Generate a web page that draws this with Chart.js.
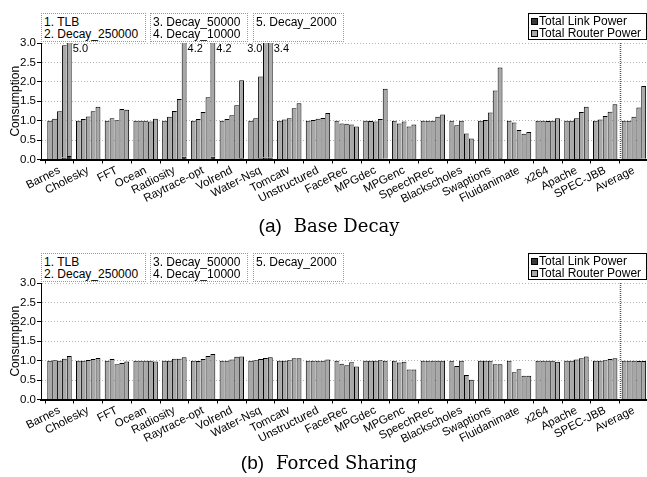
<!DOCTYPE html>
<html><head><meta charset="utf-8">
<script src="https://cdn.jsdelivr.net/npm/chart.js@4/dist/chart.umd.min.js"></script>
<style>
html,body{margin:0;padding:0;background:#fff;overflow:hidden;width:647px;height:477px}
.panel{position:absolute;left:0;width:647px;height:240px;overflow:hidden}
canvas{display:block;position:absolute;left:0;top:0}
.box{position:absolute;top:13px;height:29px;border:1px dotted #999;box-sizing:border-box;font:12px "Liberation Sans",Arial,sans-serif;line-height:12px;padding:2px 0 0 2px;color:#000;white-space:nowrap;background:#fff}
.legend{position:absolute;top:13px;left:528px;width:119px;height:27px;border:1px solid #000;box-sizing:border-box;font:12px "Liberation Sans",Arial,sans-serif;line-height:12px;padding:1px 0 0 2px;color:#000;white-space:nowrap;background:#fff}
.mk{display:inline-block;width:5px;height:5px;border:1px solid #000;margin-right:1px;vertical-align:0px}
.cap{position:absolute;left:0;width:658px;text-align:center;line-height:20px;color:#000;white-space:nowrap}
.cap .s{font:19px "Liberation Sans",Arial,sans-serif;margin-right:12px}
.cap .t{font:18px "DejaVu Serif",serif}
</style></head>
<body>
<div class="panel" id="pa" style="top:0px"><canvas id="ca" width="647" height="240"></canvas></div>
<div class="panel" id="pb" style="top:240px"><canvas id="cb" width="647" height="240"></canvas></div>
<script>
const categories = ['Barnes','Cholesky','FFT','Ocean','Radiosity','Raytrace-opt','Volrend','Water-Nsq','Tomcatv','Unstructured','FaceRec','MPGdec','MPGenc','SpeechRec','Blackscholes','Swaptions','Fluidanimate','x264','Apache','SPEC-JBB','Average'];
const configs = ['1. TLB','2. Decay_250000','3. Decay_50000','4. Decay_10000','5. Decay_2000'];
const seriesNames = ['Total Link Power','Total Router Power'];
const captions = [['(a)','Base Decay'],['(b)','Forced Sharing']];
const yTickValues = [0,0.5,1,1.5,2,2.5,3];

// total consumption (link + router) per category, one value per config
const baseDecayTotal = [
 [1.00,1.05,1.24,2.94,5.0],
 [1.00,1.04,1.11,1.24,1.36],
 [1.00,1.06,1.01,1.30,1.28],
 [1.00,1.00,1.00,0.98,1.05],
 [1.00,1.10,1.25,1.56,4.2],
 [1.00,1.04,1.22,1.60,4.2],
 [1.00,1.04,1.14,1.40,2.04],
 [1.00,1.06,2.14,3.02,3.4],
 [1.00,1.03,1.06,1.32,1.45],
 [1.00,1.02,1.05,1.07,1.20],
 [1.00,0.93,0.92,0.90,0.85],
 [1.00,0.99,0.98,1.04,1.82],
 [1.00,0.93,0.98,0.85,0.90],
 [1.00,1.00,1.00,1.10,1.16],
 [1.00,0.88,1.00,0.67,0.54],
 [1.00,1.02,1.21,1.78,2.37],
 [1.00,0.95,0.76,0.66,0.71],
 [1.00,1.00,0.99,1.00,1.06],
 [1.00,1.00,1.06,1.22,1.36],
 [1.00,1.03,1.12,1.23,1.42],
 [1.00,1.00,1.10,1.34,1.89]
];
const baseDecayLink = [
 [0.01,0.01,0.01,0.05,0.09],
 [0.01,0.01,0.01,0.01,0.01],
 [0.01,0.01,0.01,0.01,0.01],
 [0.01,0.01,0.01,0.01,0.01],
 [0.01,0.01,0.01,0.01,0.07],
 [0.01,0.01,0.01,0.01,0.07],
 [0.01,0.01,0.01,0.01,0.03],
 [0.01,0.01,0.03,0.05,0.05],
 [0.01,0.01,0.01,0.01,0.01],
 [0.01,0.01,0.01,0.01,0.01],
 [0.01,0.01,0.01,0.01,0.01],
 [0.01,0.01,0.01,0.01,0.02],
 [0.01,0.01,0.01,0.01,0.01],
 [0.01,0.01,0.01,0.01,0.01],
 [0.01,0.01,0.01,0.01,0.01],
 [0.01,0.01,0.01,0.01,0.03],
 [0.01,0.01,0.01,0.01,0.01],
 [0.01,0.01,0.01,0.01,0.01],
 [0.01,0.01,0.01,0.01,0.01],
 [0.01,0.01,0.01,0.01,0.01],
 [0.01,0.01,0.01,0.01,0.02]
];
const forcedSharingTotal = [
 [1.00,1.01,1.00,1.05,1.12],
 [1.00,1.00,1.02,1.045,1.07],
 [1.00,1.04,0.91,0.94,0.98],
 [1.00,1.00,1.00,1.00,0.98],
 [1.00,1.00,1.05,1.05,1.09],
 [1.00,0.99,1.045,1.12,1.17],
 [1.00,1.00,1.03,1.10,1.11],
 [1.00,1.01,1.045,1.07,1.09],
 [1.00,1.00,1.01,1.06,1.06],
 [1.00,1.00,1.00,1.00,1.03],
 [1.00,0.92,0.88,0.96,0.85],
 [1.00,1.00,1.00,1.01,1.00],
 [1.00,0.95,0.97,0.77,0.77],
 [1.00,1.00,1.00,1.00,1.00],
 [1.00,0.865,1.00,0.63,0.51],
 [1.00,1.00,1.00,0.91,0.91],
 [1.00,0.70,0.78,0.61,0.61],
 [1.00,1.00,1.00,1.00,0.97],
 [1.00,1.00,1.03,1.06,1.11],
 [1.00,1.00,1.01,1.045,1.06],
 [1.00,1.00,1.00,0.99,0.99]
];
const forcedSharingLink = categories.map(() => [0.01,0.01,0.01,0.01,0.01]);

const LINK_COLOR = '#3a3a3a', ROUTER_COLOR = '#a8a8a8';
const SANS = '"Liberation Sans", Arial, sans-serif';

function addOverlays(panel, capIdx, capTop) {
  const boxes = [[41,105,[configs[0],configs[1]]],[150,98,[configs[2],configs[3]]],[253,91,[configs[4]]]];
  boxes.forEach(([l,w,lines]) => {
    const d = document.createElement('div');
    d.className = 'box'; d.style.left = l+'px'; d.style.width = w+'px';
    d.innerHTML = lines.join('<br>');
    panel.appendChild(d);
  });
  const lg = document.createElement('div');
  lg.className = 'legend';
  lg.innerHTML = '<span class="mk" style="background:'+LINK_COLOR+'"></span>'+seriesNames[0]+'<br>'+
                 '<span class="mk" style="background:'+ROUTER_COLOR+'"></span>'+seriesNames[1];
  panel.appendChild(lg);
  const cap = document.createElement('div');
  cap.className = 'cap'; cap.style.top = capTop + 'px';
  cap.innerHTML = '<span class="s">'+captions[capIdx][0]+'</span><span class="t">'+captions[capIdx][1]+'</span>';
  panel.appendChild(cap);
}

const decorPlugin = {
  id: 'decor',
  afterDatasetsDraw(chart, args, opts) {
    const {ctx, chartArea} = chart;
    const xs = chart.scales.x;
    // dotted separator before "Average"
    const sx = Math.round(xs.getPixelForValue(categories.length - 1.5)) + 0.5;
    ctx.save();
    ctx.strokeStyle = '#555'; ctx.lineWidth = 1.5; ctx.setLineDash([1,1]);
    ctx.beginPath(); ctx.moveTo(sx, chartArea.top); ctx.lineTo(sx, chartArea.bottom); ctx.stroke();
    ctx.restore();
    // overflow labels
    const totals = opts.totals;
    ctx.save();
    ctx.font = '11px ' + SANS; ctx.fillStyle = '#000'; ctx.textBaseline = 'middle';
    totals.forEach((row, i) => {
      row.forEach((v, k) => {
        if (v <= 3) return;
        const el = chart.getDatasetMeta(2*k+1).data[i];
        const left = (k < row.length-1 && row[k+1] > 3);
        if (left) { ctx.textAlign = 'right'; ctx.fillText(v.toFixed(1), el.x - el.width/2 - 0.5, chartArea.top + 6); }
        else { ctx.textAlign = 'left'; ctx.fillText(v.toFixed(1), el.x + el.width/2 + 1, chartArea.top + 6); }
      });
    });
    ctx.restore();
  }
};

function makeChart(canvasId, totals, links) {
  const datasets = [];
  configs.forEach((c, k) => {
    const bw = {left:1, top:1, bottom:0, right: (k === configs.length-1 ? 1 : 0)};
    datasets.push({label: seriesNames[0], stack: 's'+k, clip: 0,
      data: categories.map((n,i) => ({x:i, y:links[i][k]})),
      backgroundColor: LINK_COLOR, borderColor:'#000', borderWidth:bw, borderSkipped:false});
    datasets.push({label: seriesNames[1], stack: 's'+k, clip: 0,
      data: categories.map((n,i) => ({x:i, y:+(totals[i][k]-links[i][k]).toFixed(3)})),
      backgroundColor: ROUTER_COLOR, borderColor:'#000', borderWidth:bw, borderSkipped:false});
  });
  return new Chart(document.getElementById(canvasId), {
    type: 'bar',
    data: {datasets},
    plugins: [decorPlugin],
    options: {
      responsive:false, animation:false, devicePixelRatio:1,
      categoryPercentage:0.85, barPercentage:1.0,
      layout:{padding:{top:43,left:0,right:0,bottom:0}},
      plugins:{legend:{display:false}, tooltip:{enabled:false}, decor:{totals}},
      scales:{
        x:{type:'linear', min:-0.644, max:20.456, stacked:true, offset:false,
           afterBuildTicks: s => { s.ticks = categories.map((_,i)=>({value:i})); },
           afterFit: s => { s.height = 80.5; },
           ticks:{autoSkip:false, minRotation:27, maxRotation:27, padding:0, color:'#000',
                  font:{family:SANS, size:11.5}, callback:(v)=>categories[v] ?? ''},
           grid:{drawOnChartArea:false, drawTicks:true, tickLength:4, tickColor:'#000', tickWidth:1},
           border:{display:true, color:'#000', width:2}
        },
        y:{min:0, max:3, stacked:true,
           afterBuildTicks: s => { s.ticks = yTickValues.map(v=>({value:v})); },
           afterFit: s => { s.width = 41; },
           ticks:{padding:1, color:'#000', font:{family:SANS, size:11.5}, callback:v=>v.toFixed(1)},
           grid:{color:'#b4b4b4', lineWidth:1, tickColor:'#000', tickLength:4, tickWidth:1, tickBorderDash:[]},
           border:{display:true, color:'#000', width:1, dash:[1,2]},
           title:{display:true, text:'Consumption', color:'#000', font:{family:SANS, size:12}, padding:{top:8,bottom:0}}
        }
      }
    }
  });
}

addOverlays(document.getElementById('pa'), 0, 215);
addOverlays(document.getElementById('pb'), 1, 212);
makeChart('ca', baseDecayTotal, baseDecayLink);
makeChart('cb', forcedSharingTotal, forcedSharingLink);
</script>
</body></html>
